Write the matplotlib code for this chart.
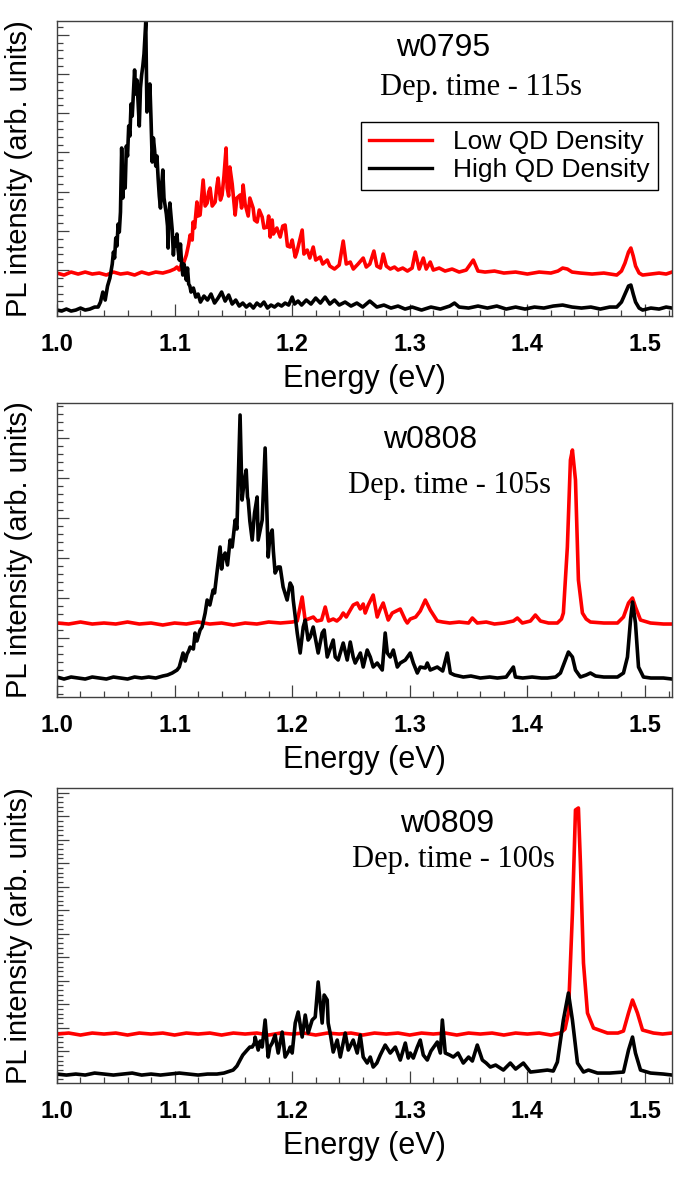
import numpy as np
import matplotlib
matplotlib.use("Agg")
import matplotlib.pyplot as plt
from matplotlib.ticker import FixedLocator, MultipleLocator, FormatStrFormatter, NullFormatter

# PL spectra: (energy eV, intensity arb. units)
# intensity units are arbitrary (roughly pixel height of the original panel)

w0795_high = [
    (1.000, 6), (1.004, 5), (1.008, 7), (1.012, 5), (1.016, 6), (1.020, 8), (1.024, 6), (1.028, 7),
    (1.032, 9), (1.035, 9), (1.037, 14), (1.039, 24), (1.041, 16), (1.043, 30), (1.045, 38), (1.047, 52),
    (1.048, 64), (1.049, 58), (1.050, 78), (1.051, 70), (1.052, 92), (1.053, 84), (1.054, 104), (1.055, 168),
    (1.056, 118), (1.057, 140), (1.058, 128), (1.059, 170), (1.060, 160), (1.061, 190), (1.062, 180),
    (1.063, 212), (1.064, 200), (1.065, 224), (1.066, 246), (1.067, 222), (1.068, 236), (1.069, 214),
    (1.070, 190), (1.071, 228), (1.072, 241), (1.073, 250), (1.074, 262), (1.0755, 294), (1.0765, 204),
    (1.077, 226), (1.078, 214), (1.079, 232), (1.080, 196), (1.081, 154), (1.082, 178), (1.083, 166),
    (1.084, 150), (1.085, 160), (1.086, 138), (1.087, 120), (1.088, 108), (1.089, 130), (1.090, 146),
    (1.091, 118), (1.092, 110), (1.093, 102), (1.094, 90), (1.0945, 68), (1.095, 96), (1.096, 113),
    (1.097, 100), (1.098, 86), (1.099, 61), (1.100, 78), (1.101, 70), (1.102, 82), (1.103, 66), (1.104, 56),
    (1.105, 72), (1.106, 52), (1.107, 41), (1.108, 52), (1.109, 46), (1.110, 36), (1.111, 48), (1.112, 32),
    (1.113, 30), (1.114, 24), (1.116, 28), (1.118, 19), (1.120, 22), (1.122, 14), (1.125, 20), (1.128, 16),
    (1.131, 22), (1.134, 13), (1.137, 18), (1.140, 24), (1.143, 15), (1.146, 21), (1.149, 12), (1.152, 16),
    (1.155, 10), (1.158, 13), (1.161, 9), (1.164, 12), (1.167, 8), (1.170, 13), (1.173, 10), (1.176, 14),
    (1.179, 8), (1.182, 11), (1.185, 9), (1.188, 12), (1.191, 10), (1.194, 13), (1.197, 11), (1.200, 19),
    (1.202, 12), (1.205, 15), (1.208, 11), (1.212, 16), (1.216, 12), (1.220, 18), (1.224, 13), (1.228, 19),
    (1.232, 12), (1.236, 16), (1.240, 11), (1.245, 14), (1.250, 10), (1.255, 13), (1.260, 9), (1.266, 15),
    (1.272, 9), (1.278, 11), (1.284, 8), (1.290, 10), (1.296, 7), (1.302, 9), (1.310, 6), (1.318, 9),
    (1.326, 7), (1.334, 10), (1.338, 13), (1.342, 9), (1.350, 8), (1.358, 10), (1.366, 8), (1.374, 10),
    (1.382, 7), (1.390, 9), (1.398, 7), (1.406, 9), (1.414, 8), (1.422, 10), (1.430, 11), (1.438, 9),
    (1.446, 8), (1.454, 9), (1.462, 7), (1.470, 9), (1.476, 9), (1.480, 14), (1.483, 22), (1.486, 30),
    (1.488, 31), (1.490, 22), (1.492, 14), (1.495, 8), (1.498, 6), (1.505, 8), (1.512, 7), (1.518, 9),
    (1.523, 8),
]

w0795_low = [
    (1.000, 43), (1.006, 41), (1.012, 44), (1.018, 42), (1.024, 44), (1.030, 42), (1.036, 43), (1.042, 41),
    (1.048, 44), (1.054, 42), (1.060, 43), (1.066, 41), (1.072, 44), (1.078, 42), (1.084, 44), (1.090, 43),
    (1.096, 45), (1.100, 47), (1.102, 49), (1.104, 46), (1.106, 52), (1.108, 54), (1.110, 61), (1.112, 72),
    (1.1132, 81), (1.115, 76), (1.1157, 94), (1.117, 88), (1.119, 114), (1.120, 100), (1.1217, 101),
    (1.123, 118), (1.1243, 136), (1.126, 110), (1.1277, 113), (1.129, 124), (1.1302, 128), (1.132, 110),
    (1.1345, 114), (1.136, 130), (1.137, 138), (1.139, 116), (1.1404, 121), (1.142, 140), (1.1438, 168),
    (1.1447, 128), (1.146, 120), (1.147, 149), (1.149, 132), (1.1515, 101), (1.153, 118), (1.1557, 121),
    (1.157, 108), (1.1583, 131), (1.160, 112), (1.1626, 100), (1.164, 118), (1.1668, 108), (1.168, 96),
    (1.1702, 94), (1.172, 106), (1.1745, 99), (1.176, 88), (1.1787, 89), (1.180, 100), (1.1813, 79),
    (1.183, 96), (1.184, 82), (1.187, 88), (1.1898, 79), (1.192, 90), (1.194, 91), (1.196, 70), (1.1983, 69),
    (1.200, 76), (1.2026, 59), (1.204, 64), (1.2085, 86), (1.210, 62), (1.2128, 66), (1.215, 58),
    (1.2179, 69), (1.220, 56), (1.2238, 59), (1.226, 52), (1.2298, 56), (1.232, 50), (1.236, 47),
    (1.240, 51), (1.2434, 75), (1.246, 52), (1.2494, 54), (1.252, 47), (1.256, 52), (1.2604, 58),
    (1.263, 49), (1.266, 52), (1.2695, 65), (1.272, 50), (1.275, 48), (1.2774, 62), (1.280, 50),
    (1.2834, 47), (1.287, 49), (1.290, 46), (1.294, 48), (1.298, 45), (1.302, 48), (1.3047, 64),
    (1.308, 47), (1.3115, 58), (1.314, 47), (1.3174, 54), (1.320, 46), (1.325, 48), (1.330, 45),
    (1.336, 47), (1.342, 44), (1.348, 46), (1.354, 56), (1.358, 45), (1.364, 44), (1.372, 45), (1.380, 43),
    (1.390, 44), (1.400, 42), (1.410, 44), (1.420, 43), (1.426, 45), (1.430, 48), (1.434, 47), (1.438, 44),
    (1.445, 43), (1.455, 42), (1.465, 43), (1.476, 41), (1.480, 45), (1.483, 53), (1.486, 64), (1.488, 68),
    (1.490, 60), (1.492, 50), (1.495, 43), (1.498, 41), (1.505, 42), (1.512, 43), (1.518, 42), (1.523, 44),
]

w0808_high = [
    (1.000, 20), (1.006, 18), (1.012, 20), (1.018, 19), (1.024, 18), (1.030, 20), (1.036, 19), (1.042, 18),
    (1.048, 20), (1.054, 19), (1.060, 18), (1.066, 20), (1.072, 19), (1.078, 20), (1.084, 19), (1.090, 21),
    (1.094, 22), (1.098, 24), (1.1021, 27), (1.104, 30), (1.1072, 44), (1.109, 36), (1.1106, 43),
    (1.112, 46), (1.1132, 50), (1.116, 48), (1.1174, 64), (1.119, 56), (1.1217, 67), (1.1234, 70),
    (1.126, 84), (1.1277, 97), (1.130, 92), (1.1328, 107), (1.134, 104), (1.136, 124), (1.1387, 150),
    (1.140, 128), (1.1413, 140), (1.143, 144), (1.145, 132), (1.1472, 157), (1.149, 150), (1.1515, 177),
    (1.153, 168), (1.1557, 282), (1.1574, 197), (1.159, 214), (1.1609, 227), (1.162, 200), (1.1626, 197),
    (1.164, 176), (1.1660, 157), (1.168, 184), (1.1702, 200), (1.1711, 157), (1.173, 168), (1.1745, 177),
    (1.1770, 249), (1.1796, 140), (1.181, 160), (1.1830, 167), (1.184, 146), (1.1855, 124), (1.188, 130),
    (1.1898, 130), (1.1923, 110), (1.1957, 97), (1.1983, 114), (1.200, 110), (1.2009, 97), (1.2043, 64),
    (1.2068, 44), (1.2094, 70), (1.2111, 77), (1.2136, 57), (1.2153, 60), (1.2179, 70), (1.2221, 44),
    (1.2255, 64), (1.2272, 67), (1.2298, 40), (1.2349, 57), (1.2366, 40), (1.2391, 37), (1.2434, 54),
    (1.2468, 37), (1.2494, 55), (1.2519, 40), (1.2536, 34), (1.258, 44), (1.2604, 30), (1.2638, 47),
    (1.2664, 40), (1.2689, 30), (1.2723, 34), (1.2766, 27), (1.2791, 64), (1.2809, 44), (1.2834, 40),
    (1.2860, 47), (1.2894, 30), (1.2919, 34), (1.2962, 37), (1.3004, 44), (1.3030, 34), (1.3064, 24),
    (1.3089, 30), (1.3132, 29), (1.3149, 34), (1.3174, 27), (1.3234, 30), (1.3280, 26), (1.3319, 44),
    (1.3345, 24), (1.338, 22), (1.3455, 20), (1.352, 21), (1.360, 19), (1.368, 20), (1.3745, 19),
    (1.382, 20), (1.3881, 30), (1.3898, 20), (1.396, 19), (1.404, 20), (1.412, 19), (1.4170, 19),
    (1.424, 20), (1.4281, 24), (1.4323, 37), (1.4349, 45), (1.4383, 40), (1.4409, 27), (1.4451, 20),
    (1.450, 22), (1.4536, 24), (1.458, 21), (1.465, 20), (1.4766, 20), (1.4817, 24), (1.4851, 40),
    (1.4877, 77), (1.4894, 95), (1.4919, 74), (1.4945, 30), (1.4987, 20), (1.505, 19), (1.5157, 19),
    (1.523, 18),
]

w0808_low = [
    (1.000, 74), (1.010, 73), (1.020, 75), (1.030, 73), (1.040, 74), (1.050, 73), (1.060, 75), (1.070, 73),
    (1.080, 74), (1.090, 72), (1.100, 74), (1.110, 73), (1.120, 75), (1.130, 73), (1.140, 74), (1.150, 72),
    (1.160, 74), (1.170, 73), (1.180, 75), (1.190, 74), (1.200, 75), (1.2043, 76), (1.2085, 100),
    (1.211, 77), (1.2136, 78), (1.218, 80), (1.221, 76), (1.225, 77), (1.2281, 90), (1.231, 76),
    (1.2349, 78), (1.238, 76), (1.2409, 79), (1.2434, 84), (1.246, 80), (1.2494, 87), (1.2519, 92),
    (1.2553, 94), (1.2579, 88), (1.2604, 93), (1.2621, 84), (1.2647, 92), (1.2689, 102), (1.2723, 80),
    (1.2749, 88), (1.2774, 94), (1.2809, 80), (1.2817, 77), (1.2851, 84), (1.2919, 88), (1.2962, 77),
    (1.2979, 74), (1.3004, 78), (1.305, 80), (1.3089, 86), (1.3132, 97), (1.3174, 87), (1.3234, 76),
    (1.3280, 75), (1.334, 74), (1.342, 75), (1.350, 74), (1.3532, 79), (1.3574, 74), (1.365, 75),
    (1.372, 73), (1.380, 74), (1.3881, 76), (1.3915, 79), (1.3957, 74), (1.4026, 76), (1.4068, 82),
    (1.4111, 76), (1.418, 74), (1.4255, 74), (1.429, 78), (1.4306, 84), (1.4340, 150), (1.4366, 237),
    (1.4383, 247), (1.4409, 217), (1.4434, 117), (1.4468, 84), (1.450, 78), (1.4536, 75), (1.465, 74),
    (1.4766, 74), (1.4817, 80), (1.4860, 94), (1.4894, 99), (1.4919, 90), (1.4962, 77), (1.5047, 74),
    (1.5157, 73), (1.523, 73),
]

w0809_high = [
    (1.000, 9), (1.008, 8), (1.016, 9), (1.024, 8), (1.032, 10), (1.040, 9), (1.048, 8), (1.056, 9),
    (1.064, 10), (1.072, 8), (1.080, 9), (1.088, 8), (1.096, 9), (1.104, 10), (1.112, 9), (1.120, 8),
    (1.128, 9), (1.136, 9), (1.142, 10), (1.1498, 13), (1.153, 17), (1.1557, 23), (1.158, 28),
    (1.1617, 33), (1.164, 36), (1.1660, 36), (1.168, 40), (1.1685, 46), (1.1711, 33), (1.1728, 42),
    (1.1745, 36), (1.1770, 63), (1.1796, 26), (1.181, 36), (1.1830, 40), (1.1855, 48), (1.1881, 30),
    (1.1915, 51), (1.1940, 26), (1.197, 32), (1.1983, 36), (1.200, 30), (1.2026, 60), (1.2051, 71),
    (1.2085, 46), (1.2111, 68), (1.2136, 50), (1.2170, 63), (1.2196, 66), (1.2221, 101), (1.2255, 60),
    (1.2272, 88), (1.2298, 83), (1.2306, 60), (1.2323, 50), (1.2349, 31), (1.2383, 43), (1.2409, 26),
    (1.2451, 50), (1.2477, 33), (1.2519, 43), (1.2553, 30), (1.2579, 48), (1.2604, 26), (1.2638, 20),
    (1.2664, 26), (1.2689, 16), (1.272, 20), (1.2749, 28), (1.2791, 38), (1.2834, 30), (1.2877, 36),
    (1.2919, 23), (1.2962, 40), (1.2987, 25), (1.3004, 30), (1.3030, 25), (1.3064, 36), (1.3089, 43),
    (1.3115, 28), (1.3149, 23), (1.318, 32), (1.3234, 41), (1.3260, 30), (1.3277, 63), (1.3302, 30),
    (1.334, 28), (1.3370, 26), (1.341, 30), (1.3455, 20), (1.350, 26), (1.3532, 22), (1.3574, 38),
    (1.3617, 23), (1.365, 20), (1.3685, 16), (1.373, 18), (1.3796, 13), (1.3855, 20), (1.390, 14),
    (1.3966, 20), (1.4026, 11), (1.410, 12), (1.4170, 13), (1.422, 12), (1.4255, 21), (1.4306, 63),
    (1.4349, 90), (1.4383, 63), (1.4426, 20), (1.4477, 11), (1.4519, 13), (1.4596, 10), (1.470, 10),
    (1.4817, 11), (1.4860, 33), (1.4894, 46), (1.4919, 30), (1.4962, 13), (1.5047, 10), (1.5157, 9),
    (1.523, 8),
]

w0809_low = [
    (1.000, 49), (1.010, 50), (1.020, 48), (1.030, 50), (1.040, 49), (1.050, 50), (1.060, 48), (1.070, 50),
    (1.080, 49), (1.090, 50), (1.100, 48), (1.110, 50), (1.120, 49), (1.130, 50), (1.140, 48), (1.150, 50),
    (1.160, 49), (1.170, 50), (1.180, 48), (1.190, 50), (1.200, 49), (1.210, 50), (1.220, 48), (1.230, 50),
    (1.240, 49), (1.250, 50), (1.260, 48), (1.270, 50), (1.280, 49), (1.290, 50), (1.300, 48), (1.310, 50),
    (1.320, 49), (1.330, 50), (1.340, 48), (1.350, 50), (1.360, 49), (1.370, 50), (1.380, 48), (1.390, 50),
    (1.400, 49), (1.410, 50), (1.420, 48), (1.428, 50), (1.432, 54), (1.4349, 70), (1.4383, 170),
    (1.4409, 273), (1.4434, 275), (1.4451, 220), (1.4477, 120), (1.4511, 70), (1.4562, 55), (1.4681, 50),
    (1.4770, 50), (1.4817, 52), (1.4860, 70), (1.4894, 83), (1.4936, 70), (1.4979, 53), (1.5072, 50),
    (1.515, 49), (1.523, 50),
]

panels = [
    ("w0795", "Dep. time - 115s", w0795_low, w0795_high),
    ("w0808", "Dep. time - 105s", w0808_low, w0808_high),
    ("w0809", "Dep. time - 100s", w0809_low, w0809_high),
]

# layout (figure fractions) and label placement (axes fractions)
axes_rects = [
    [0.0844, 0.7317, 0.9112, 0.2505],
    [0.0844, 0.4083, 0.9112, 0.2496],
    [0.0844, 0.0806, 0.9112, 0.2505],
]
ylims = [295, 294, 295]
ytick_start = [6.8, 18.7, 8.3]
ytick_step = [39.2, 40.0, 23.5]
name_pos = [(0.628, 0.908), (0.607, 0.874), (0.634, 0.878)]
dep_pos = [(0.689, 0.776), (0.639, 0.718), (0.644, 0.756)]

sans = ["Liberation Sans", "DejaVu Sans"]
serif = ["Liberation Serif", "DejaVu Serif"]

fig = plt.figure(figsize=(6.75, 11.78), dpi=100)

for k, (name, dep, low, high) in enumerate(panels):
    ax = fig.add_axes(axes_rects[k])
    e_lo, i_lo = zip(*low)
    e_hi, i_hi = zip(*high)
    ax.plot(e_lo, i_lo, color="#ff0000", lw=2.6, label="Low QD Density")
    ax.plot(e_hi, i_hi, color="black", lw=2.6, label="High QD Density")

    ax.set_xlim(1.0, 1.523)
    ax.set_ylim(0, ylims[k])

    ax.xaxis.set_major_locator(MultipleLocator(0.1))
    ax.xaxis.set_minor_locator(MultipleLocator(0.02))
    ax.xaxis.set_major_formatter(FormatStrFormatter("%.1f"))
    major_y = np.arange(ytick_start[k], ylims[k], ytick_step[k])
    minor_y = np.arange(ytick_start[k] % (ytick_step[k] / 5), ylims[k], ytick_step[k] / 5)
    ax.yaxis.set_major_locator(FixedLocator(major_y))
    ax.yaxis.set_minor_locator(FixedLocator(minor_y))
    ax.yaxis.set_major_formatter(NullFormatter())

    ax.tick_params(which="both", direction="in", color="#404040", width=0.9,
                   top=False, right=False)
    ax.tick_params(which="major", length=8.5)
    ax.tick_params(which="minor", length=4.5)
    ax.tick_params(axis="x", which="major", pad=12)
    for lbl in ax.get_xticklabels():
        lbl.set_fontfamily(sans)
        lbl.set_fontweight("bold")
        lbl.set_fontsize(17)

    for sp in ax.spines.values():
        sp.set_color("#404040")
        sp.set_linewidth(1.0)

    ax.set_xlabel("Energy (eV)", fontsize=22, family=sans, labelpad=6)
    ax.set_ylabel("PL intensity (arb. units)", fontsize=21, family=sans, labelpad=14)

    ax.text(*name_pos[k], name, transform=ax.transAxes, fontsize=23, family=sans,
            ha="center", va="center")
    ax.text(*dep_pos[k], dep, transform=ax.transAxes, fontsize=22, family=serif,
            ha="center", va="center")

    if k == 0:
        leg = ax.legend(loc="upper right", bbox_to_anchor=(0.977, 0.658), borderaxespad=0,
                        prop={"family": sans, "size": 19}, fancybox=False,
                        framealpha=1, edgecolor="black", handlelength=2.4,
                        borderpad=0.3, labelspacing=0.15, handletextpad=0.8)
        leg.get_frame().set_linewidth(1.0)
        for ln in leg.get_lines():
            ln.set_linewidth(2.4)

fig.savefig("out.png", dpi=100)
